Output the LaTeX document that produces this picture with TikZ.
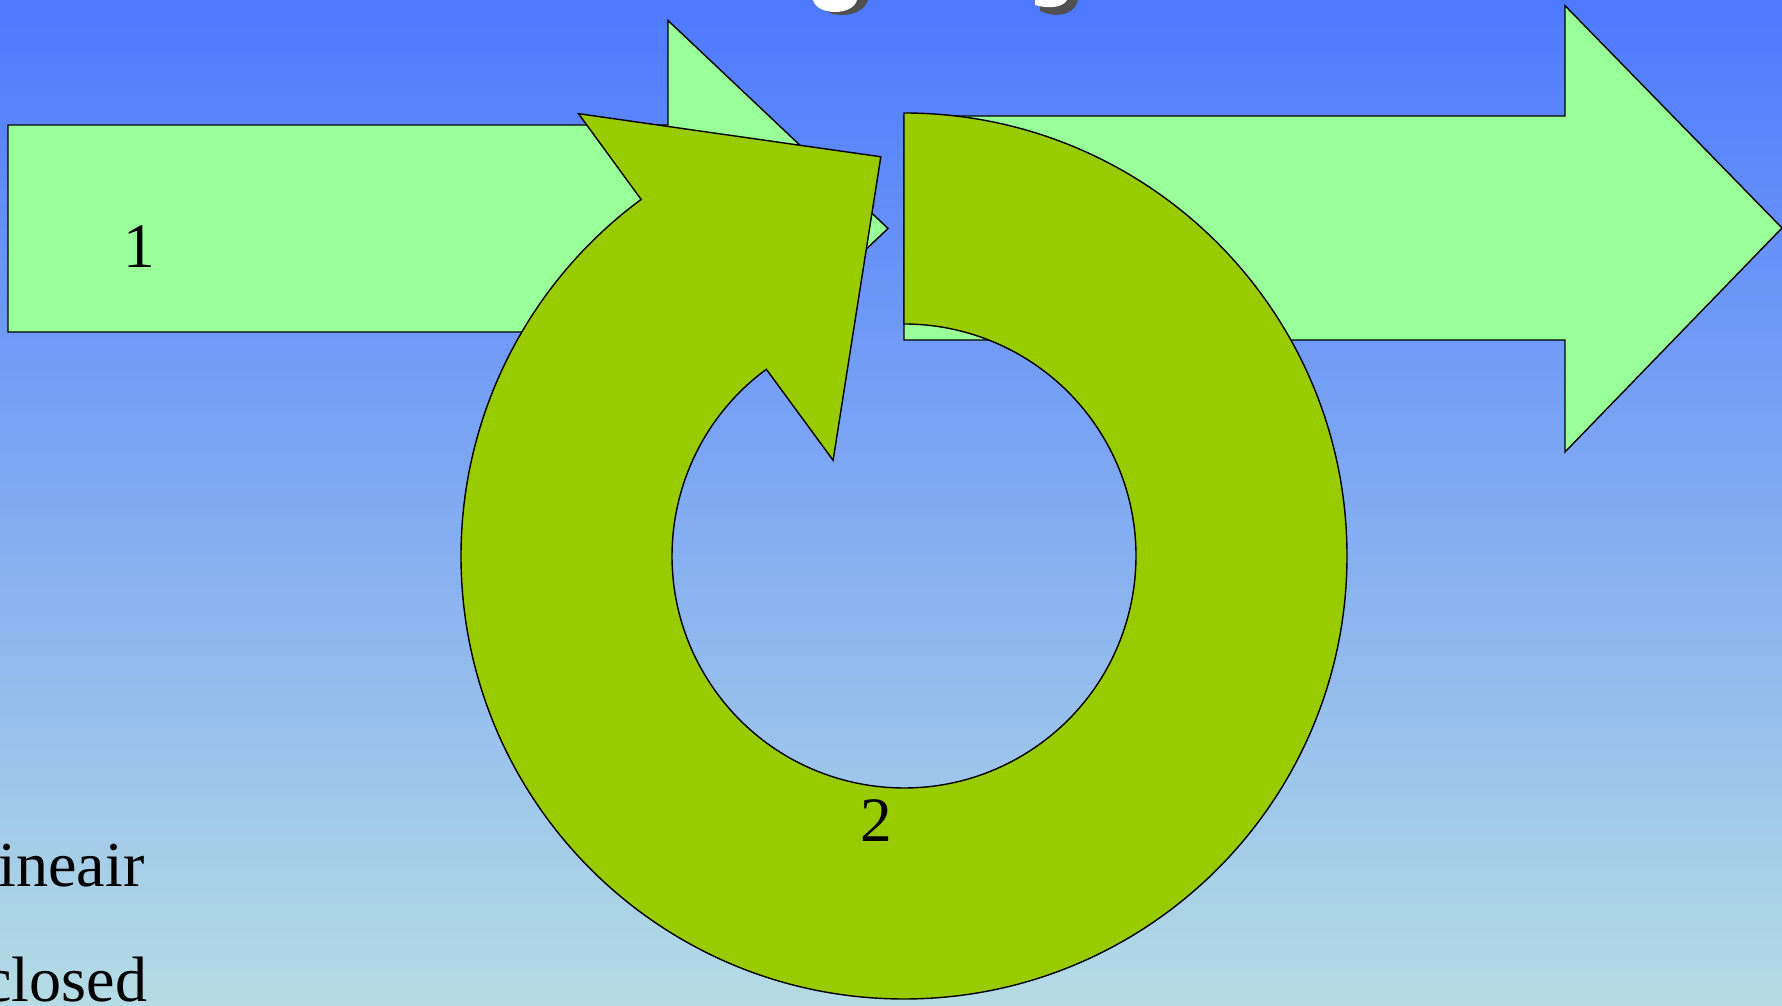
\documentclass[tikz,border=0pt]{standalone}
\usepackage{fontspec}
\setmainfont{Liberation Serif}
\usepackage{tikz}
\usetikzlibrary{positioning}
\usetikzlibrary{calc}
\definecolor{bgtop}{RGB}{77,121,255}
\definecolor{bgbottom}{RGB}{181,220,228}
\definecolor{arrowgreen}{RGB}{153,255,153}
\definecolor{ringgreen}{RGB}{153,204,0}
\definecolor{shadowgray}{RGB}{80,80,80}
\tikzset{
  blockarrow/.style={draw=black, line width=0.8pt, fill=arrowgreen, line join=miter},
  ringarrow/.style={draw=black, line width=0.8pt, fill=ringgreen},
  numlabel/.style={font=\fontsize{36}{40}\selectfont, inner sep=0pt},
  sidetext/.style={font=\fontsize{36.5}{40}\selectfont, inner sep=0pt, anchor=base west}
}

\begin{document}
\begin{tikzpicture}[
    x=0.02cm,
    y=0.02cm
]
  \useasboundingbox (0,0) rectangle (1782,1006);
  \shade[top color=bgtop, bottom color=bgbottom] (0,0) rectangle (1782,1006);

  % bits of the title at the top edge
  \fill[shadowgray] (817,1006) .. controls (822,986) and (862,986) .. (868,1006) -- cycle;
  \fill[white] (813,1006) .. controls (817,990) and (853,990) .. (857,1006) -- cycle;
  \fill[shadowgray] (1040,1006) -- (1040,995) .. controls (1060,986) and (1076,994) .. (1078,1006) -- cycle;
  \fill[white] (1035,1006) -- (1035,1001) .. controls (1052,996) and (1064,1000) .. (1067,1006) -- cycle;

  % arrows
  \draw[blockarrow] (8,674) -- (8,881) -- (668,881) -- (668,985.5) -- (888,777.5) -- (668,569.5) -- (668,674) -- cycle;
  \draw[blockarrow] (904,666) -- (904,890) -- (1565,890) -- (1565,1000.3) -- (1782,778) -- (1565,554) -- (1565,666) -- cycle;

  % circular arrow
  \coordinate (ctr) at (904,450);
  \draw[ringarrow] ($(ctr)+(90:443)$) arc[start angle=90, end angle=-233.6, radius=443]
    -- (578.5,892.3) -- (880.8,849.2) -- (833.1,545.7)
    -- ($(ctr)+(126.4:232)$) arc[start angle=126.4, end angle=450, radius=232] -- cycle;

  \node[numlabel] (one) at (139,759) {1};
  \node[numlabel] (two) at (876,185) {2};

  \node[sidetext] (lin) at (-2,119) {ineair};
  \node[sidetext] (clo) at (-17,4) {closed};
\end{tikzpicture}
\end{document}
